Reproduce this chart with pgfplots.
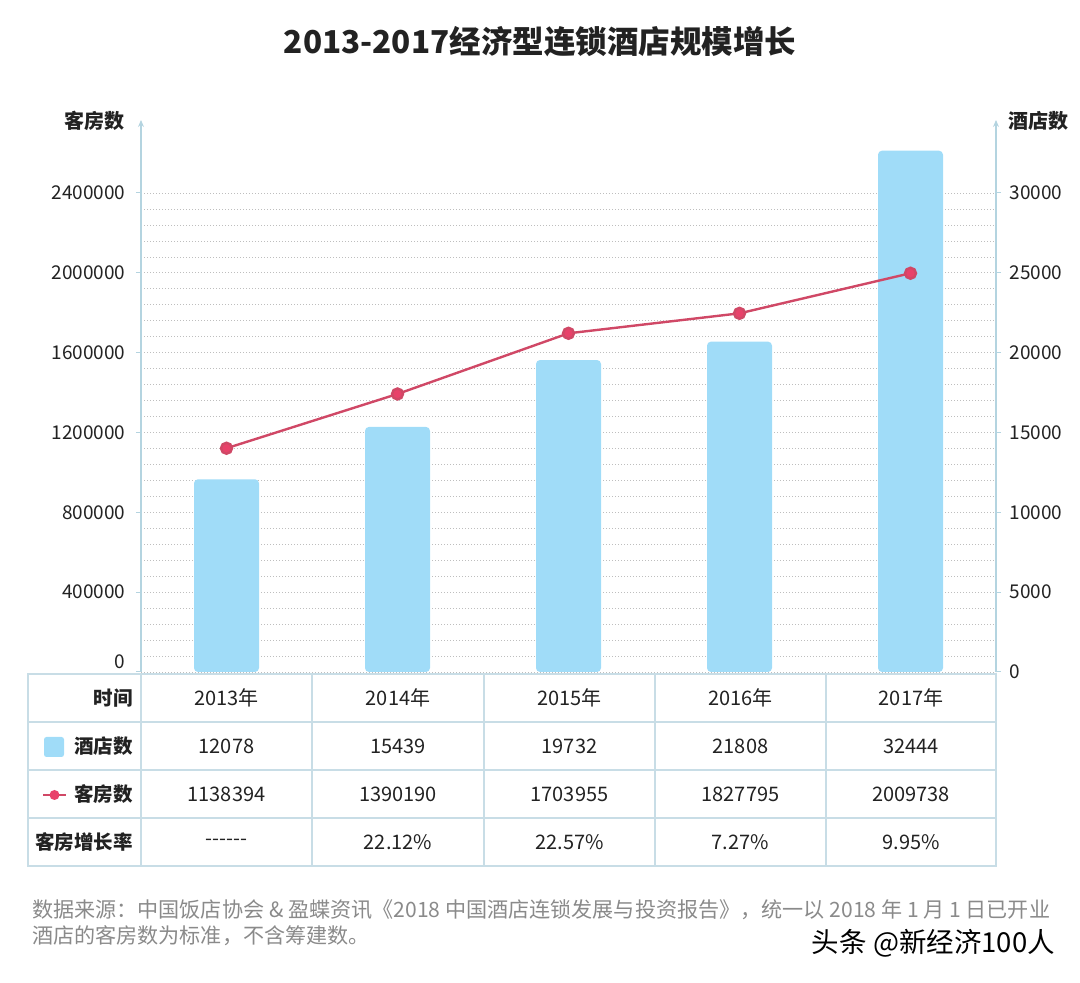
\documentclass[border=0pt]{standalone}
\usepackage{pgfplots}
\pgfplotsset{compat=1.18}
\usepackage{fontspec}
\setmainfont{Noto Sans CJK SC}
\usetikzlibrary{arrows.meta}
\definecolor{barblue}{RGB}{160,220,248}
\definecolor{linered}{RGB}{208,72,102}
\definecolor{markred}{RGB}{232,66,106}
\definecolor{axisblue}{RGB}{180,212,224}
\definecolor{tblline}{RGB}{200,221,230}
\definecolor{gridgray}{RGB}{190,190,190}
\definecolor{txt}{RGB}{34,34,34}
\definecolor{foot}{RGB}{138,138,138}
\begin{document}
\begin{tikzpicture}
\path[use as bounding box] (0pt,0pt) rectangle (1080pt,983pt);
% ---------- bars: hotels (right axis)
\begin{axis}[
  at={(141pt,311pt)}, anchor=south west,
  scale only axis, width=855pt, height=552pt,
  xmin=-0.5, xmax=4.5, ymin=0, ymax=34572,
  hide x axis,
  axis y line*=right,
  axis line style={draw=axisblue, line width=1.3pt, -{Stealth[length=7pt,width=6pt]}},
  ytick={0,5000,10000,15000,20000,25000,30000},
  minor y tick num=4,
  ymajorgrids, yminorgrids,
  major grid style={gridgray, line width=0.7pt, dash pattern=on 0.8pt off 2.2pt},
  minor grid style={gridgray, line width=0.7pt, dash pattern=on 0.8pt off 2.2pt},
  tick align=outside, major tick length=5pt, minor tick length=0pt,
  tick style={axisblue, line width=1pt},
  scaled y ticks=false,
  yticklabel style={xshift=5pt, font=\fontsize{19}{19}\selectfont, text=txt, /pgf/number format/.cd, fixed, 1000 sep={}, assume math mode=true},
]
% hotel counts as drawn in the chart
\addplot[ybar, bar width=65pt, fill=barblue, draw=none, rounded corners=4pt] coordinates {(0,12070) (1,15350) (2,19540) (3,20690) (4,32650)};
\end{axis}
% ---------- line: rooms (left axis)
\begin{axis}[
  at={(141pt,311pt)}, anchor=south west,
  scale only axis, width=855pt, height=552pt,
  xmin=-0.5, xmax=4.5, ymin=0, ymax=2765762,
  hide x axis,
  axis y line*=left,
  axis line style={draw=axisblue, line width=1.3pt, -{Stealth[length=7pt,width=6pt]}},
  ytick={0,400000,800000,1200000,1600000,2000000,2400000},
  yticklabels={,400000,800000,1200000,1600000,2000000,2400000},
  tick align=outside, major tick length=5pt, minor tick length=0pt,
  tick style={axisblue, line width=1pt},
  scaled y ticks=false,
  yticklabel style={xshift=-7pt, font=\fontsize{19}{19}\selectfont, text=txt},
  clip=false,
]
\addplot[linered, line width=2.4pt, mark=*, mark size=5.5pt, mark options={fill=markred, draw=none}] coordinates {(0,1121000) (1,1393000) (2,1697000) (3,1797000) (4,1998000)};
\end{axis}
\begin{scope}[x=1pt, y=-1pt, yshift=983pt]
% ---------- titles
\node[font=\bfseries\fontsize{31.5}{31.5}\selectfont, text=txt] at (540,42) {2013-2017经济型连锁酒店规模增长};
\node[anchor=east, font=\bfseries\fontsize{20}{20}\selectfont, text=txt, inner sep=0pt] at (125,121) {客房数};
\node[anchor=west, font=\bfseries\fontsize{20}{20}\selectfont, text=txt, inner sep=0pt] at (1008,121) {酒店数};
\node[anchor=east, font=\fontsize{19}{19}\selectfont, text=txt, inner sep=0pt] at (125,662) {0};
% ---------- table
\draw[tblline, line width=1.5pt] (28,674) rectangle (996,866);
\foreach \yy in {722,770,818} \draw[tblline, line width=1.5pt] (28,\yy) -- (996,\yy);
\foreach \xx in {141,312,484,655,826} \draw[tblline, line width=1.5pt] (\xx,674) -- (\xx,866);
\begin{scope}[every node/.style={font=\fontsize{20}{20}\selectfont, text=txt}]
\node[anchor=east, inner sep=0pt, font=\bfseries\fontsize{19.5}{19.5}\selectfont] at (133,698) {时间};
\node[anchor=east, inner sep=0pt, font=\bfseries\fontsize{19.5}{19.5}\selectfont] at (133,746) {酒店数};
\node[anchor=east, inner sep=0pt, font=\bfseries\fontsize{19.5}{19.5}\selectfont] at (133,794) {客房数};
\node[anchor=east, inner sep=0pt, font=\bfseries\fontsize{19.5}{19.5}\selectfont] at (133,842) {客房增长率};
\node at (226.5,698) {2013年}; \node at (398,698) {2014年}; \node at (569.5,698) {2015年}; \node at (740.5,698) {2016年}; \node at (911,698) {2017年};
\node at (226.5,746) {12078}; \node at (398,746) {15439}; \node at (569.5,746) {19732}; \node at (740.5,746) {21808}; \node at (911,746) {32444};
\node at (226.5,794) {1138394}; \node at (398,794) {1390190}; \node at (569.5,794) {1703955}; \node at (740.5,794) {1827795}; \node at (911,794) {2009738};
\node at (226.5,842) {-{}-{}-{}-{}-{}-}; \node at (398,842) {22.12\%}; \node at (569.5,842) {22.57\%}; \node at (740.5,842) {7.27\%}; \node at (911,842) {9.95\%};
\end{scope}
% legend icons
\fill[barblue, rounded corners=2.5pt] (44,737) rectangle (64,757);
\draw[linered, line width=2.2pt] (43,795) -- (66,795);
\fill[markred] (54.5,795) circle (5pt);
% ---------- footer
\node[anchor=west, font=\fontsize{21.1}{21.1}\selectfont, text=foot, inner sep=0pt] at (32,910) {数据来源：中国饭店协会 \& 盈蝶资讯《2018 中国酒店连锁发展与投资报告》，统一以 2018 年 1 月 1 日已开业};
\node[anchor=west, font=\fontsize{21.1}{21.1}\selectfont, text=foot, inner sep=0pt] at (32,936) {酒店的客房数为标准，不含筹建数。};
\node[anchor=east, font=\fontsize{27.5}{27.5}\selectfont, text=black, inner sep=0pt] at (1055,943) {头条 @新经济100人};
\end{scope}
\end{tikzpicture}
\end{document}
